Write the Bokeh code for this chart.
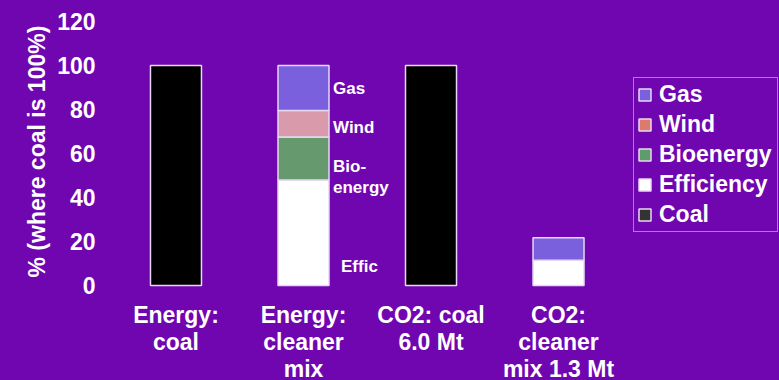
from bokeh.plotting import figure
from bokeh.models import (ColumnDataSource, FixedTicker, Legend, LegendItem,
                          Range1d, Title)
from bokeh.core.properties import value
from bokeh.embed import file_html
from bokeh.resources import INLINE

# --- data -----------------------------------------------------------------
categories = ["Energy:\ncoal", "Energy:\ncleaner\nmix",
              "CO2: coal\n6.0 Mt", "CO2:\ncleaner\nmix 1.3 Mt"]
coal = [100, 0, 100, 0]
efficiency = [0, 48, 0, 11.5]
bioenergy = [0, 19.5, 0, 0]
wind = [0, 12, 0, 0]
gas = [0, 20.5, 0, 10.2]
y_ticks = [0, 20, 40, 60, 80, 100, 120]

segment_names = ["Coal", "Efficiency", "Bioenergy", "Wind", "Gas"]
segment_values = [coal, efficiency, bioenergy, wind, gas]
bar_colors = ["#000000", "#ffffff", "#66996e", "#d99aab", "#7a60dc"]
legend_colors = ["#333333", "#ffffff", "#5e9c6c", "#dc7a6c", "#7a60dc"]

# labels written beside the cleaner-mix bar
seg_labels = ["Gas", "Wind", "Bio-\nenergy", "Effic"]
seg_label_y = [89.5, 71.8, 49.3, 8.6]
seg_label_dx = [4, 4, 4, 12]

BG = "#7006b0"
FONT = "Liberation Sans"
BIG = "23px"

x = list(range(len(categories)))
bar_w = 0.4

p = figure(width=779, height=380, output_backend="svg", toolbar_location=None,
           x_axis_location=None, min_border_left=100, min_border_right=0,
           min_border_top=0, min_border_bottom=0)
p.x_range = Range1d(-0.592, 4.733)
p.y_range = Range1d(-43.18, 129.55)
# the element itself carries the purple behind the side panels
p.styles = {"background-color": BG}
p.background_fill_color = BG
p.border_fill_color = None
p.outline_line_color = None
p.grid.visible = False

# stacked columns, bottom to top
bottom = [0.0] * len(x)
for name, vals, col in zip(segment_names, segment_values, bar_colors):
    idx = [i for i, v in enumerate(vals) if v > 0]
    src = ColumnDataSource(dict(
        x=[x[i] for i in idx],
        bottom=[bottom[i] for i in idx],
        top=[bottom[i] + vals[i] for i in idx],
    ))
    p.vbar(x="x", bottom="bottom", top="top", width=bar_w, source=src,
           fill_color=col, line_color="#e6d8f4", line_width=1.5)
    bottom = [b + v for b, v in zip(bottom, vals)]

# segment labels next to the cleaner-mix column
p.text(x=[x[1] + bar_w / 2] * len(seg_labels), y=seg_label_y, text=seg_labels,
       x_offset=seg_label_dx, text_color="white", text_font=value(FONT),
       text_font_style="bold", text_font_size="17px", text_align="left",
       text_baseline="middle", text_line_height=1.1)

# category labels under the columns
p.text(x=x, y=[0] * len(x), text=categories, y_offset=16,
       text_color="white", text_font=value(FONT), text_font_style="bold",
       text_font_size=BIG, text_align="center", text_baseline="top",
       text_line_height=1.05)

# y axis
ax = p.yaxis[0]
ax.ticker = FixedTicker(ticks=y_ticks)
ax.axis_line_color = None
ax.major_tick_line_color = None
ax.minor_tick_line_color = None
ax.major_tick_out = 0
ax.major_tick_in = 0
ax.minor_tick_out = 0
ax.major_label_text_color = "white"
ax.major_label_text_font = FONT
ax.major_label_text_font_style = "bold"
ax.major_label_text_font_size = BIG
ax.major_label_standoff = 5

p.add_layout(Title(text="% (where coal is 100%)", align="left", offset=103,
                   text_color="white", text_font=FONT, text_font_style="bold",
                   text_font_size=BIG), "left")

# legend with its own swatches
items = []
for name, col in zip(segment_names, legend_colors):
    r = p.vbar(x=[float("nan")], top=[float("nan")], width=bar_w,
               fill_color=col, line_color="#e6d8f4", line_width=1.5)
    items.append(LegendItem(label=name, renderers=[r]))
items.reverse()

legend = Legend(items=items, location=(533, 148), glyph_width=15,
                glyph_height=15, label_height=20, label_width=115,
                spacing=3, padding=3, label_standoff=7, margin=0,
                background_fill_alpha=0, border_line_color="#f0e8fa",
                border_line_width=1.5, label_text_color="white",
                label_text_font=FONT, label_text_font_style="bold",
                label_text_font_size=BIG)
p.add_layout(legend, "center")

html = file_html(p, INLINE)
page_style = "<style>html, body { margin: 0; background: %s; }</style>" % BG
html = html.replace("</head>", page_style + "</head>", 1)
open("out.html", "w").write(html)
